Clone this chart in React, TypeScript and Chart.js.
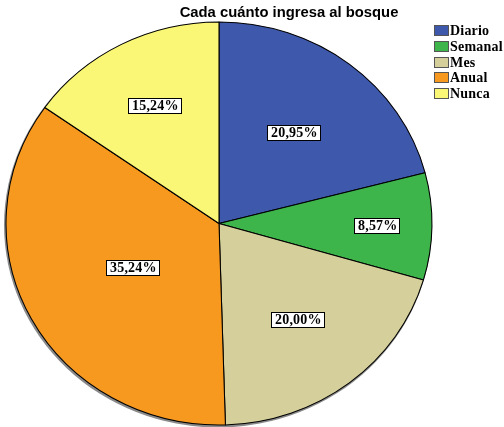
import React, { useEffect, useRef } from "react";
import { Chart, registerables } from "chart.js";

Chart.register(...registerables);

const TITLE = "Cada cuánto ingresa al bosque";
const categories = ["Diario", "Semanal", "Mes", "Anual", "Nunca"];
const percentages = [20.95, 8.57, 20.0, 35.24, 15.24];
const colors = ["#3E58AC", "#3EB54B", "#D4CF9B", "#F8991F", "#FBF776"];
// radial placement of each slice label, as a fraction of the radius
const labelRadius = [0.57, 0.74, 0.6, 0.46, 0.66];

const X_STRETCH = 1.057;

const fmt = (v: number) => v.toFixed(2).replace(".", ",") + "%";

export default function App() {
  const ref = useRef<HTMLCanvasElement>(null);

  useEffect(() => {
    const canvas = ref.current!;

    const stretch = {
      id: "stretch",
      beforeDatasetsDraw(chart: any) {
        const arc = chart.getDatasetMeta(0).data[0] as any;
        const { x, y, outerRadius } = arc;
        const ctx = chart.ctx as CanvasRenderingContext2D;
        ctx.save();
        ctx.beginPath();
        ctx.ellipse(x - 1, y + 1.5, outerRadius * X_STRETCH + 1, outerRadius + 1, 0, 0, Math.PI * 2);
        ctx.fillStyle = "#8a8a8a";
        ctx.fill();
        ctx.translate(x, y);
        ctx.scale(X_STRETCH, 1);
        ctx.translate(-x, -y);
      },
      afterDatasetsDraw(chart: any) {
        const ctx = chart.ctx as CanvasRenderingContext2D;
        ctx.restore();
        const meta = chart.getDatasetMeta(0);
        ctx.save();
        ctx.font = "bold 14px 'Liberation Serif'";
        (ctx as any).letterSpacing = "0.2px";
        ctx.textAlign = "left";
        ctx.textBaseline = "middle";
        meta.data.forEach((el: any, i: number) => {
          const mid = (el.startAngle + el.endAngle) / 2;
          const r = el.outerRadius * labelRadius[i];
          const cx = el.x + Math.cos(mid) * r * X_STRETCH;
          const cy = el.y + Math.sin(mid) * r;
          const text = fmt(percentages[i]);
          const w = ctx.measureText(text).width;
          const bw = Math.round(w + 6);
          const bh = 15;
          const bx = Math.round(cx - bw / 2) + 0.5;
          const by = Math.round(cy - bh / 2) + 0.5;
          ctx.fillStyle = "#ffffff";
          ctx.fillRect(bx, by, bw, bh);
          ctx.strokeStyle = "#000000";
          ctx.lineWidth = 1;
          ctx.strokeRect(bx, by, bw, bh);
          ctx.fillStyle = "#000000";
          ctx.fillText(text, bx + 3.5, by + bh / 2 + 0.5);
        });
        ctx.restore();
      },
      afterDraw(chart: any) {
        const ctx = chart.ctx as CanvasRenderingContext2D;
        ctx.save();
        // title
        ctx.font = "bold 14.8px 'Liberation Sans'";
        ctx.fillStyle = "#000000";
        ctx.textAlign = "center";
        ctx.textBaseline = "alphabetic";
        ctx.fillText(TITLE, 289, 17);
        // legend
        ctx.font = "bold 14px 'Liberation Serif'";
        (ctx as any).letterSpacing = "0.2px";
        ctx.textAlign = "left";
        ctx.textBaseline = "middle";
        categories.forEach((c, i) => {
          const top = 25 + i * 15.75;
          const bx = 434.5;
          const by = Math.round(top) + 0.5;
          ctx.fillStyle = colors[i];
          ctx.fillRect(bx, by, 14, 10);
          ctx.strokeStyle = "#555555";
          ctx.lineWidth = 1;
          ctx.strokeRect(bx, by, 14, 10);
          ctx.fillStyle = "#000000";
          ctx.fillText(c, 450, by + 5.5);
        });
        ctx.restore();
      },
    };

    const chart = new Chart(canvas, {
      type: "pie",
      data: {
        labels: categories,
        datasets: [
          {
            data: percentages,
            backgroundColor: colors,
            borderColor: "#000000",
            borderWidth: 1,
            radius: 201.5,
          } as any,
        ],
      },
      options: {
        animation: false,
        responsive: false,
        events: [],
        layout: { padding: { left: 10, right: 76, top: 20, bottom: 0 } },
        plugins: {
          legend: { display: false },
          title: { display: false },
          tooltip: { enabled: false },
        },
      },
      plugins: [stretch],
    });
    return () => chart.destroy();
  }, []);

  return (
    <div style={{ position: "absolute", left: 0, top: 0, width: 504, height: 427, background: "#fff" }}>
      <canvas ref={ref} width={504} height={427} style={{ display: "block" }} />
    </div>
  );
}
